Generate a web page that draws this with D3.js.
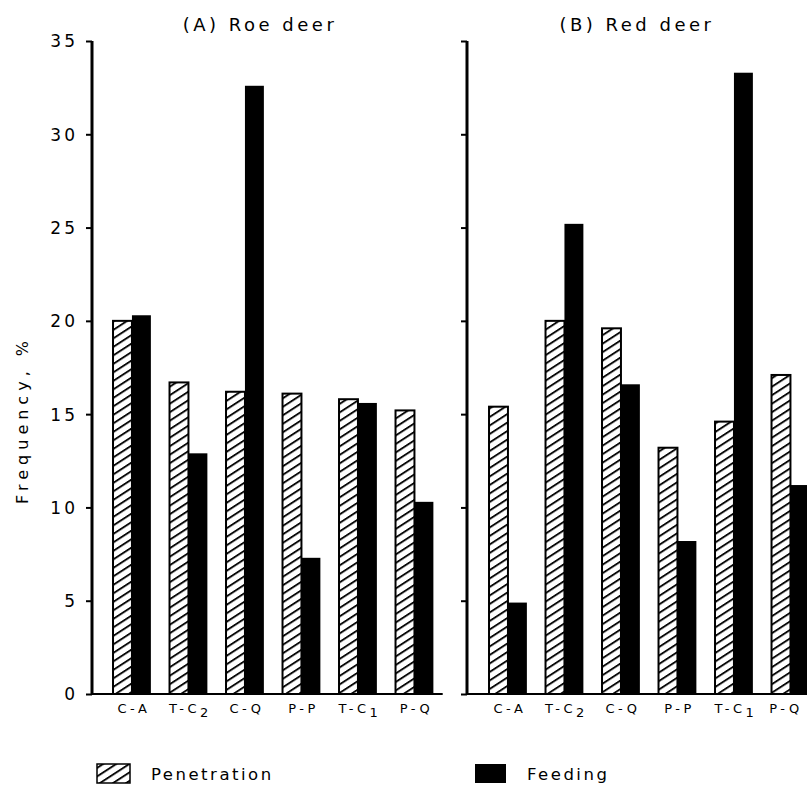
<!DOCTYPE html>
<html>
<head>
<meta charset="utf-8">
<script src="https://cdn.jsdelivr.net/npm/d3@7"></script>
<style>
  html, body { margin: 0; padding: 0; background: #fff; overflow: hidden; }
  svg text { font-family: "DejaVu Sans", sans-serif; fill: #000; }
</style>
</head>
<body>
<svg id="chart" width="807" height="791"></svg>
<script>
// categories and their printed labels (base text, subscript)
var categories = ['C-A', 'T-C2', 'C-Q', 'P-P', 'T-C1', 'P-Q'];
var catLabels = [['C-A', ''], ['T-C', '2'], ['C-Q', ''], ['P-P', ''], ['T-C', '1'], ['P-Q', '']];

// frequency, %
var roePenetration = [20.0, 16.7, 16.2, 16.1, 15.8, 15.2];
var roeFeeding     = [20.3, 12.9, 32.6, 7.3, 15.6, 10.3];
var redPenetration = [15.4, 20.0, 19.6, 13.2, 14.6, 17.1];
var redFeeding     = [4.9, 25.2, 16.6, 8.2, 33.3, 11.2];

var yTicks = [0, 5, 10, 15, 20, 25, 30, 35];
var panelTitles = ['(A) Roe deer', '(B) Red deer'];
var legendNames = ['Penetration', 'Feeding'];

var svg = d3.select('#chart');

// hatch pattern for penetration bars
var defs = svg.append('defs');
var pat = defs.append('pattern')
	.attr('id', 'hatch')
	.attr('patternUnits', 'userSpaceOnUse')
	.attr('width', 19)
	.attr('height', 8.5)
	.attr('patternTransform', 'skewY(-33)');
pat.append('rect').attr('width', 19).attr('height', 8.5).attr('fill', '#fff');
pat.append('line')
	.attr('x1', 0).attr('y1', 4).attr('x2', 19).attr('y2', 4)
	.attr('stroke', '#000').attr('stroke-width', 2.2);

var y = d3.scaleLinear().domain([0, 35]).range([694, 41]);

var panels = [
	{axisX: 92, x0: 103.7, pen: roePenetration, feed: roeFeeding, title: panelTitles[0], titleX: 260, labels: true},
	{axisX: 467, x0: 479.7, pen: redPenetration, feed: redFeeding, title: panelTitles[1], titleX: 637, labels: false}
];

panels.forEach(function(p){
	var x = d3.scaleBand()
		.domain(categories)
		.range([p.x0, p.x0 + 6 * 56.5])
		.paddingInner(0.33)
		.paddingOuter(0.165);
	var g = svg.append('g');
	var bw = x.bandwidth() / 2;

	// penetration (hatched)
	g.selectAll('.pen')
		.data(p.pen)
		.enter()
		.append('rect')
		.attr('class', 'pen')
		.attr('x', function(d, i){ return x(categories[i]); })
		.attr('y', function(d){ return y(d); })
		.attr('width', bw)
		.attr('height', function(d){ return y(0) - y(d); })
		.attr('fill', 'url(#hatch)')
		.attr('stroke', '#000')
		.attr('stroke-width', 2);

	// feeding (solid)
	g.selectAll('.feed')
		.data(p.feed)
		.enter()
		.append('rect')
		.attr('class', 'feed')
		.attr('x', function(d, i){ return x(categories[i]) + bw; })
		.attr('y', function(d){ return y(d); })
		.attr('width', bw)
		.attr('height', function(d){ return y(0) - y(d); })
		.attr('fill', '#000');

	// y axis
	var yAxis = d3.axisLeft(y)
		.tickValues(yTicks)
		.tickSize(6)
		.tickPadding(8)
		.tickFormat(p.labels ? d3.format('d') : '');
	var ag = g.append('g')
		.attr('transform', 'translate(' + p.axisX + ',0)')
		.call(yAxis);
	ag.select('.domain').remove();
	ag.selectAll('.tick line').attr('stroke', '#000').attr('stroke-width', 2);
	ag.selectAll('.tick text')
		.style('font-size', '17px')
		.style('letter-spacing', '3px')
		.attr('dy', '0.35em');
	g.append('line')
		.attr('x1', p.axisX).attr('x2', p.axisX)
		.attr('y1', y(35)).attr('y2', y(0) + 1)
		.attr('stroke', '#000').attr('stroke-width', 3);

	// baseline
	g.append('line')
		.attr('x1', p.axisX).attr('x2', p.labels ? p.x0 + 6 * 56.5 : 820)
		.attr('y1', y(0)).attr('y2', y(0))
		.attr('stroke', '#000').attr('stroke-width', 2);

	// category labels (kept inside the window on the right)
	var lab = g.selectAll('.cat')
		.data(catLabels)
		.enter()
		.append('text')
		.attr('class', 'cat')
		.attr('x', function(d, i){ return Math.min(x(categories[i]) + x.bandwidth() / 2 + 2, 786); })
		.attr('y', y(0) + 19)
		.attr('text-anchor', 'middle')
		.style('font-size', '13px')
		.style('letter-spacing', '3.5px');
	lab.append('tspan').text(function(d){ return d[0]; });
	lab.append('tspan')
		.attr('dy', function(d){ return d[1] ? 4 : 0; })
		.style('font-size', '13px')
		.text(function(d){ return d[1]; });

	// panel title
	g.append('text')
		.attr('x', p.titleX)
		.attr('y', 31)
		.attr('text-anchor', 'middle')
		.style('font-size', '18px')
		.style('letter-spacing', '3.5px')
		.text(p.title);
});

// y axis title
svg.append('text')
	.attr('transform', 'translate(28,' + 420 + ') rotate(-90)')
	.attr('text-anchor', 'middle')
	.style('font-size', '16px')
	.style('letter-spacing', '5px')
	.text('Frequency, %');

// legend
var legend = svg.append('g').attr('transform', 'translate(97,764)');
var items = legend.selectAll('.item')
	.data(legendNames)
	.enter()
	.append('g')
	.attr('transform', function(d, i){ return 'translate(' + (i * 378) + ',0)'; });
items.append('rect')
	.attr('width', function(d, i){ return i ? 31 : 33; })
	.attr('height', 19)
	.attr('fill', function(d, i){ return i ? '#000' : 'url(#hatch)'; })
	.attr('stroke', function(d, i){ return i ? 'none' : '#000'; })
	.attr('stroke-width', 1.5);
items.append('text')
	.attr('x', function(d, i){ return i ? 52 : 54; })
	.attr('y', 16)
	.style('font-size', '16.5px')
	.style('letter-spacing', '2.5px')
	.text(function(d){ return d; });
</script>
</body>
</html>
